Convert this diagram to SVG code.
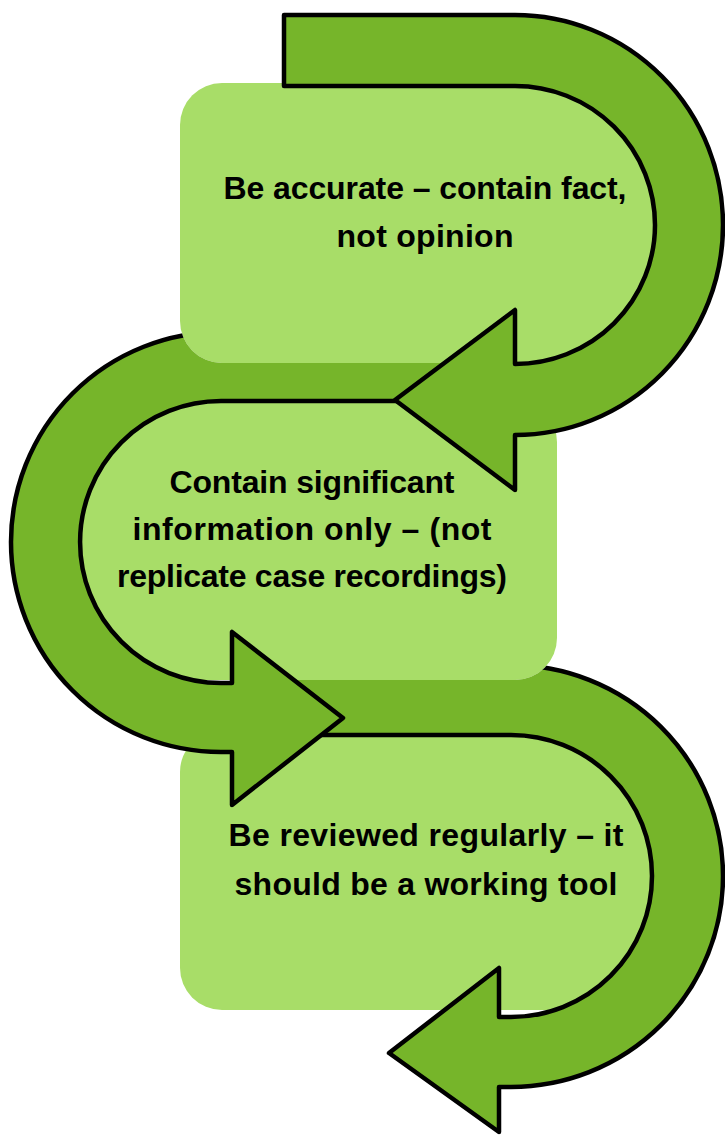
<svg xmlns="http://www.w3.org/2000/svg" width="725" height="1135" viewBox="0 0 725 1135">
<style>
.box{fill:#A8DD68}
.arrow{fill:#76B52A;stroke:#000;stroke-width:4.5;stroke-linejoin:round}
.lbl{font-family:"Liberation Sans",Arial,sans-serif;font-weight:bold;font-size:32px;fill:#000;text-anchor:middle}
</style>
<defs>
<mask id="m2" maskUnits="userSpaceOnUse" x="0" y="0" width="725" height="1135">
<rect width="725" height="1135" fill="#fff"/>
<rect x="180" y="83" width="490" height="280" rx="42" fill="#000"/>
</mask>
<mask id="m3" maskUnits="userSpaceOnUse" x="0" y="0" width="725" height="1135">
<rect width="725" height="1135" fill="#fff"/>
<rect x="67" y="400" width="490" height="280" rx="42" fill="#000"/>
</mask>
</defs>
<g id="node3">
<rect class="box" x="180" y="730" width="490" height="280" rx="42"/>
<text class="lbl" x="426" y="846" textLength="395">Be reviewed regularly – it</text>
<text class="lbl" x="426" y="895" textLength="383">should be a working tool</text>
</g>
<g id="node2">
<rect class="box" x="67" y="400" width="490" height="280" rx="42"/>
<text class="lbl" x="312" y="493" textLength="285">Contain significant</text>
<text class="lbl" x="312" y="540" textLength="359">information only – (not</text>
<text class="lbl" x="312" y="587" textLength="390">replicate case recordings)</text>
</g>
<g id="node1">
<rect class="box" x="180" y="83" width="490" height="280" rx="42"/>
<text class="lbl" x="425" y="199" textLength="403">Be accurate – contain fact,</text>
<text class="lbl" x="425" y="247" textLength="177">not opinion</text>
</g>
<g id="connectors">
<path id="arrow3" class="arrow" mask="url(#m3)" d="M 260 665 L 511 665 A 212 211 0 0 1 511 1087 L 499 1087 L 499 1132 L 389 1053 L 499 968 L 499 1017 L 511 1017 A 141 141 0 0 0 511 735 L 260 735 Z"/>
<path id="arrow2" class="arrow" mask="url(#m2)" d="M 470 332 L 221 332 A 210 210 0 0 0 221 752 L 232 752 L 232 805 L 343 718 L 232 632 L 232 683 L 221 683 A 141 141 0 0 1 221 401 L 470 401 Z"/>
<path id="arrow1" class="arrow" d="M 284 15 L 515 15 A 208 210 0 0 1 515 435 L 515 490 L 395 400 L 515 310 L 515 364 A 140 139 0 0 0 515 86 L 284 86 Z"/>
</g>
</svg>
